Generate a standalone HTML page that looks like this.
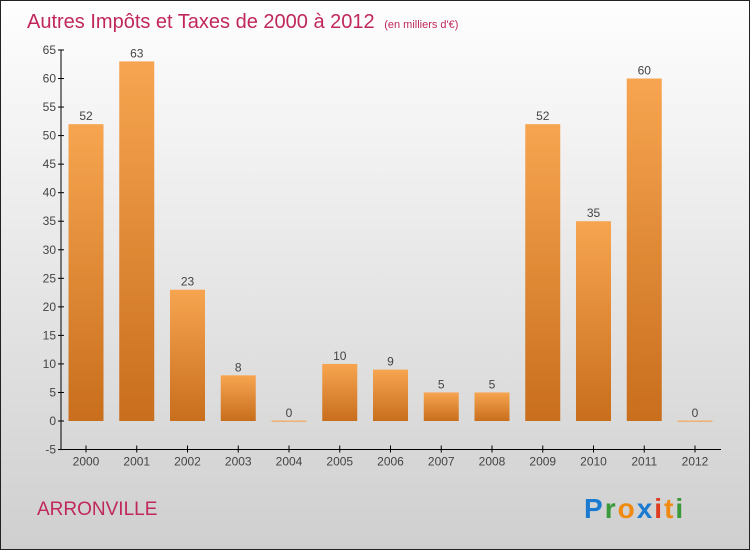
<!DOCTYPE html>
<html><head><meta charset="utf-8"><style>
body{margin:0}
#c{width:748px;height:548px;border:1px solid #222;background:linear-gradient(#fefefe,#f0f0f0 30%,#cfcfcf);position:relative;overflow:hidden;font-family:"Liberation Sans",sans-serif}
</style></head><body>
<div id="c">
<svg width="748" height="548" id="s">
<defs><linearGradient id="g" x1="0" y1="0" x2="0" y2="1"><stop offset="0" stop-color="#f7a550"/><stop offset="1" stop-color="#c86e1c"/></linearGradient></defs>
<text x="26" y="27" font-size="20" fill="#c0285a">Autres Impôts et Taxes de 2000 à 2012 <tspan font-size="11" dx="4">(en milliers d'€)</tspan></text>
<text x="36" y="514" font-size="19" fill="#c0285a">ARRONVILLE</text>
<text x="583" y="517" font-size="28" font-weight="bold" letter-spacing="2"><tspan fill="#1a7bd0">P</tspan><tspan fill="#3a9a3a">r</tspan><tspan fill="#f08a10">o</tspan><tspan fill="#1a7bd0">x</tspan><tspan fill="#e03a20">i</tspan><tspan fill="#f08a10">t</tspan><tspan fill="#3a9a3a">i</tspan></text>
<g id="plot"></g>
</svg></div>
<script>
const years=["2000","2001","2002","2003","2004","2005","2006","2007","2008","2009","2010","2011","2012"];
const values=[52,63,23,8,0,10,9,5,5,52,35,60,0];
const yTicks=[-5,0,5,10,15,20,25,30,35,40,45,50,55,60,65];
const ns="http://www.w3.org/2000/svg",g=document.getElementById('plot');
const y=v=>420-(v)*5.708, x=i=>85+i*50.75;
function mk(t,a){const e=document.createElementNS(ns,t);for(const k in a)e.setAttribute(k,a[k]);g.appendChild(e);return e;}
let ax=mk('line',{x1:59,y1:y(-5),x2:720,y2:y(-5),stroke:'#000'});


let ay=mk('line',{x1:60,y1:y(65),x2:60,y2:y(-5),stroke:'#000'});


yTicks.forEach(v=>{
 mk('line',{x1:57,x2:63,y1:y(v),y2:y(v),stroke:'#000'});
 const t=mk('text',{x:55,y:y(v)+4,'text-anchor':'end','font-size':12,fill:'#444'});t.textContent=v;
 
 
});
years.forEach((yr,i)=>{
 const cx=x(i),v=values[i];
 mk('line',{x1:cx,x2:cx,y1:y(-5)-4,y2:y(-5)+3,stroke:'#000'});
 const t=mk('text',{x:cx,y:y(-5)+16,'text-anchor':'middle','font-size':12,fill:'#444'});t.textContent=yr;
 
 
 const h=Math.max(v*5.708,1.5);
 const b=mk('rect',{x:cx-17.5,y:y(0)-h+ (v?0:1),width:35,height:h,fill:v?'url(#g)':'#f0b070'});
 
 
 const l=mk('text',{x:cx,y:y(v)-4,'text-anchor':'middle','font-size':12,fill:'#444'});l.textContent=v;
 
 
});
</script>
</body></html>
